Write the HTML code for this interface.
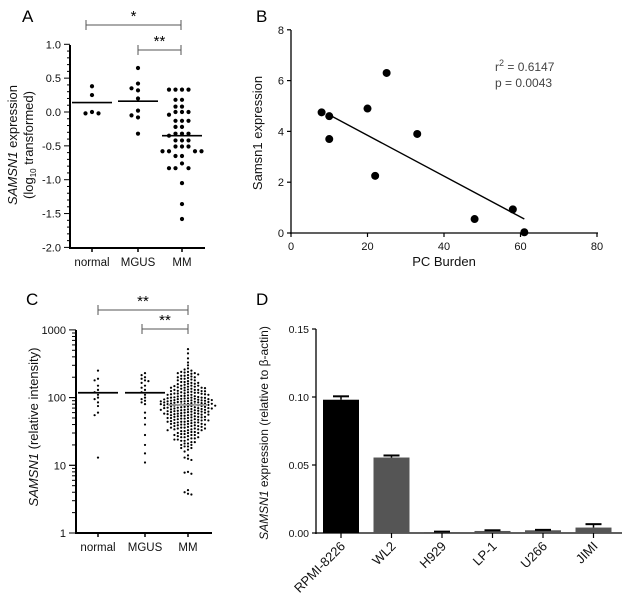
<!DOCTYPE html>
<html><head><meta charset="utf-8"><style>
body{margin:0;background:#fff}
svg{display:block;font-family:"Liberation Sans",sans-serif}
</style></head><body>
<svg id="fig" width="628" height="612" viewBox="0 0 628 612"></svg>
<script>
// Panel A data
const aCats=["normal","MGUS","MM"];
const aNormal=[0.38,0.25,0.0,-0.02,-0.02];
const aMGUS=[0.65,0.42,0.35,0.32,0.2,0.02,-0.05,-0.08,-0.32];
const aMM=[0.33,0.33,0.33,0.33,0.18,0.18,0.08,0.08,0.0,0.0,0.0,-0.04,-0.13,-0.13,-0.13,-0.22,-0.22,-0.32,-0.32,-0.32,-0.35,-0.42,-0.42,-0.42,-0.51,-0.51,-0.51,-0.58,-0.58,-0.58,-0.58,-0.65,-0.65,-0.76,-0.83,-0.83,-0.83,-1.05,-1.36,-1.58];
const aMeans=[0.14,0.16,-0.35];
const aTicks=[1.0,0.5,0.0,-0.5,-1.0,-1.5,-2.0];
// Panel B data
const bX=[8,10,10,20,22,25,33,48,58,61];
const bY=[4.75,4.6,3.7,4.9,2.25,6.3,3.9,0.55,0.93,0.03];
const bFit=[[10,4.65],[61,0.55]];
const bXTicks=[0,20,40,60,80];
const bYTicks=[0,2,4,6,8];
// Panel C data
const cCats=["normal","MGUS","MM"];
const cNormal=[250,190,180,150,130,120,110,100,95,85,75,60,55,13];
const cMGUS=[230,215,200,190,180,175,165,150,140,130,120,110,100,95,90,85,80,60,50,40,28,20,15,11];
const cMM=[520,450,380,330,300,270,260,250,240,235,230,225,220,215,210,205,200,195,190,185,180,175,170,165,160,158,155,150,148,145,142,140,138,135,132,130,128,126,124,122,120,118,116,114,112,110,108,106,104,102,100,99,98,97,96,95,94,93,92,91,90,89,88,87,86,85,84,83,82,81,80,79,78,77,76,75,74,73,72,71,70,69,68,67,66,65,64,63,62,61,60,59,58,57,56,55,54,53,52,51,50,49,48,47,46,45,44,43,42,41,40,39,38,37,36,35,34,33,32,31,30,29,28,27,26,25,24,23,22,21,20,19,18,17,16,14,13,12.5,12,8,7.5,7.8,4.3,4,3.7,3.8,
 150,140,130,120,115,110,105,100,95,90,88,85,82,80,78,75,72,70,68,66,64,62,60,58,56,54,52,50,48,46,45,44,42,41,40,38,36,35,34,32,30,28,26,25,
 130,115,100,92,86,80,74,70,66,62,58,55,52,49,46,43,40,37,34,31,28,24,21,18,
 230,210,190,170,160,150,140,135,125,118,112,106,101,96,91,87,83,79,76,73,69,65,61,57,53,50,47,44,41,38,35,33,30,27,24,22,20,
 240,200,180,165,145,125,110,98,88,81,77,71,67,63,59,56,51,47,43,39,36,33,29,26,23,19];
const cMeans=[118,118,78];
const cTicks=[1000,100,10,1];
// Panel D data
const dCats=["RPMI-8226","WL2","H929","LP-1","U266","JIMI"];
const dVals=[0.098,0.0555,0.0007,0.0015,0.002,0.004];
const dErr=[0.0025,0.0015,0.0003,0.0005,0.0003,0.0025];
const dColors=["#000","#555","#555","#555","#555","#555"];
const dTicks=[0.15,0.10,0.05,0.00];

const svg=document.getElementById('fig');
const NS="http://www.w3.org/2000/svg";
function mk(tag,attrs,parent,text){const e=document.createElementNS(NS,tag);for(const k in attrs)e.setAttribute(k,attrs[k]);if(text!==undefined)e.textContent=text;(parent||svg).appendChild(e);return e;}
function line(x1,y1,x2,y2,sw,col,p){return mk('line',{x1,y1,x2,y2,stroke:col||'#000','stroke-width':sw||1},p);}
function swarm(cx,vals,ys,d,dy){const pts=[];const sorted=vals.map(v=>ys(v)).sort((a,b)=>a-b);for(const y of sorted){let k=0,x;while(true){const off=(k%2===0?1:-1)*Math.ceil(k/2)*d;x=cx+off;if(!pts.some(p=>Math.abs(p[0]-x)<d*0.9&&Math.abs(p[1]-y)<dy))break;k++;}pts.push([x,y]);}return pts;}

// ---------- Panel A ----------
const gA=mk('g',{});


const aY=v=>112-(v)*67.7;
const aXpos=[92,138,182];
mk('text',{x:22,y:22,'font-size':17},gA,'A');
line(70,45,70,248,2,'#000',gA);line(69,248,205,248,2,'#000',gA);
for(let v=-20;v<=10;v++){line(v%5===0?64:67,aY(v/10),70,aY(v/10),1,'#000',gA);}
aTicks.forEach(t=>{const e=mk('text',{x:61,y:aY(t)+4,'font-size':11,'text-anchor':'end',fill:'#111'},gA,t.toFixed(1));});
aCats.forEach((c,i)=>{line(aXpos[i],248,aXpos[i],252,1.5,'#000',gA);const e=mk('text',{x:aXpos[i],y:266,'font-size':11.5,'text-anchor':'middle',fill:'#111'},gA,c);});
[aNormal,aMGUS,aMM].forEach((arr,i)=>{swarm(aXpos[i],arr,aY,6.5,5).forEach(p=>{const c=mk('circle',{cx:p[0],cy:p[1],r:2.1,fill:'#000'},gA);});
 const m=line(aXpos[i]-20,aY(aMeans[i]),aXpos[i]+20,aY(aMeans[i]),1.6,'#000',gA);});
function bracket(g,x1,x2,y,label){line(x1,y,x2,y,1,'#555',g);line(x1,y-5,x1,y+5,1,'#555',g);line(x2,y-5,x2,y+5,1,'#555',g);mk('text',{x:(x1+x2)/2,y:y-4,'font-size':15,'text-anchor':'middle'},g,label);}
bracket(gA,86,181,25,'*');bracket(gA,138,181,50,'**');
const atA=mk('text',{transform:'translate(17,145) rotate(-90)','font-size':13,'text-anchor':'middle',fill:'#111'},gA);

atA.innerHTML='<tspan font-style="italic">SAMSN1</tspan> expression';
const atA2=mk('text',{transform:'translate(33,145) rotate(-90)','font-size':13,'text-anchor':'middle',fill:'#111'},gA);

atA2.innerHTML='(log<tspan font-size="8" dy="3">10</tspan><tspan dy="-3"> transformed)</tspan>';

// ---------- Panel B ----------
const gB=mk('g',{});


const bx=v=>291+v*3.825, by=v=>233-v*25.4;
mk('text',{x:256,y:22,'font-size':17},gB,'B');
line(291,30,291,234,1.3,'#000',gB);line(290,233,598,233,1.3,'#000',gB);
bXTicks.forEach(t=>{line(bx(t),233,bx(t),237,1.2,'#000',gB);const e=mk('text',{x:bx(t),y:250,'font-size':11,'text-anchor':'middle',fill:'#111'},gB,t);});
bYTicks.forEach(t=>{line(287,by(t),291,by(t),1.2,'#000',gB);const e=mk('text',{x:284,y:by(t)+4,'font-size':11,'text-anchor':'end',fill:'#111'},gB,t);});
const fl=line(bx(bFit[0][0]),by(bFit[0][1]),bx(bFit[1][0]),by(bFit[1][1]),1.4,'#000',gB);
bX.forEach((x,i)=>{const c=mk('circle',{cx:bx(x),cy:by(bY[i]),r:4,fill:'#000'},gB);});
const r2=mk('text',{x:495,y:71,'font-size':12,fill:'#444'},gB);r2.innerHTML='r<tspan font-size="9" dy="-5">2</tspan><tspan dy="5"> = 0.6147</tspan>';
mk('text',{x:495,y:87,'font-size':12,fill:'#444'},gB,'p = 0.0043');
mk('text',{x:444,y:266,'font-size':13,'text-anchor':'middle',fill:'#111'},gB,'PC Burden');
mk('text',{transform:'translate(262,133) rotate(-90)','font-size':13,'text-anchor':'middle',fill:'#111'},gB,'Samsn1 expression');

// ---------- Panel C ----------
const gC=mk('g',{});


const cY=v=>533-Math.log10(v)*67.7;
const cXpos=[98,145,188];
mk('text',{x:26,y:305,'font-size':17},gC,'C');
line(76,330,76,534,2,'#000',gC);line(75,533,212,533,2,'#000',gC);
for(let d=0;d<3;d++)for(let m=1;m<=10;m++){const v=m*Math.pow(10,d);line((m===1||m===10)?69:72,cY(v),76,cY(v),1,'#000',gC);}
cTicks.forEach(t=>{const e=mk('text',{x:66,y:cY(t)+4,'font-size':11,'text-anchor':'end',fill:'#111'},gC,t);});
cCats.forEach((c,i)=>{line(cXpos[i],533,cXpos[i],537,1.5,'#000',gC);const e=mk('text',{x:cXpos[i],y:551,'font-size':11.5,'text-anchor':'middle',fill:'#111'},gC,c);});
[cNormal,cMGUS,cMM].forEach((arr,i)=>{swarm(cXpos[i],arr,cY,3.4,2.6).forEach(p=>{const c=mk('circle',{cx:p[0],cy:p[1],r:1.1,fill:'#000'},gC);});
 const m=line(cXpos[i]-20,cY(cMeans[i]),cXpos[i]+20,cY(cMeans[i]),1.8,i===2?'#999':'#000',gC);});
bracket(gC,98,188,310,'**');bracket(gC,142,188,329,'**');
const atC=mk('text',{transform:'translate(38,427) rotate(-90)','font-size':13,'text-anchor':'middle',fill:'#111'},gC);

atC.innerHTML='<tspan font-style="italic">SAMSN1</tspan> (relative intensity)';

// ---------- Panel D ----------
const gD=mk('g',{});


const dY=v=>533-v*1360;
const dX=i=>341+i*50.5;
mk('text',{x:256,y:305,'font-size':17},gD,'D');
line(316,329,316,534,1.3,'#000',gD);line(315,533,622,533,1.3,'#000',gD);
dTicks.forEach(t=>{line(312,dY(t),316,dY(t),1.2,'#000',gD);const e=mk('text',{x:309,y:dY(t)+4,'font-size':10.5,'text-anchor':'end',fill:'#111'},gD,t.toFixed(2));});
dCats.forEach((c,i)=>{const x=dX(i);
 const b=mk('rect',{x:x-18,y:dY(dVals[i]),width:36,height:Math.max(533-dY(dVals[i]),0.5),fill:dColors[i]},gD);
 const ey=dY(dVals[i]+dErr[i]);line(x,dY(dVals[i]),x,ey,1.5,'#000',gD);const cap=line(x-8,ey,x+8,ey,2,'#000',gD);
 line(x,533,x,538,1.2,'#000',gD);
 const e=mk('text',{transform:`translate(${x+5},${547}) rotate(-45)`,'font-size':13,'text-anchor':'end',fill:'#111'},gD,c);});
const atD=mk('text',{transform:'translate(268,433) rotate(-90)','font-size':12,'text-anchor':'middle',fill:'#111'},gD);

atD.innerHTML='<tspan font-style="italic">SAMSN1</tspan> expression (relative to β-actin)';
</script>
</body></html>
